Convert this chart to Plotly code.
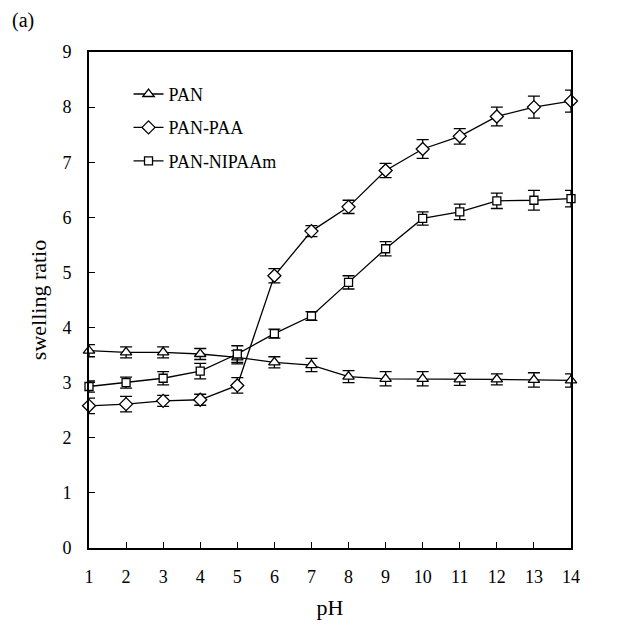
import plotly.graph_objects as go

ph = list(range(1, 15))
pan = [3.58, 3.55, 3.55, 3.52, 3.46, 3.37, 3.32, 3.11, 3.07, 3.07, 3.06, 3.06, 3.05, 3.04]
pan_err = [0.11, 0.10, 0.10, 0.10, 0.12, 0.10, 0.12, 0.11, 0.13, 0.13, 0.11, 0.10, 0.13, 0.12]
paa = [2.58, 2.61, 2.67, 2.69, 2.95, 4.94, 5.75, 6.19, 6.85, 7.24, 7.47, 7.83, 8.00, 8.11]
paa_err = [0.14, 0.14, 0.10, 0.10, 0.14, 0.13, 0.10, 0.12, 0.13, 0.17, 0.14, 0.17, 0.20, 0.20]
nip = [2.93, 3.00, 3.08, 3.21, 3.52, 3.89, 4.21, 4.82, 5.43, 5.98, 6.10, 6.30, 6.31, 6.34]
nip_err = [0.10, 0.10, 0.12, 0.14, 0.15, 0.08, 0.08, 0.12, 0.13, 0.12, 0.14, 0.14, 0.18, 0.15]

series = [
    ("PAN", pan, pan_err, "triangle-up", 10),
    ("PAN-PAA", paa, paa_err, "diamond", 10),
    ("PAN-NIPAAm", nip, nip_err, "square", 8),
]

font = "Liberation Serif, Times New Roman, serif"
fig = go.Figure()
for name, vals, errs, sym, sz in series:
    fig.add_trace(go.Scatter(
        x=ph, y=vals, name=name, mode="lines+markers", legendgroup=name,
        line=dict(color="black", width=1.3),
        marker=dict(symbol=sym, size=sz, color="white", line=dict(color="black", width=1.3)),
        error_y=dict(type="data", array=errs, visible=True, color="black", thickness=1.3, width=6),
        cliponaxis=False,
    ))

fig.update_layout(
    width=633, height=632,
    margin=dict(l=81, r=70, t=44, b=92),
    paper_bgcolor="white", plot_bgcolor="white",
    font=dict(family=font, size=18, color="black"),
    showlegend=True,
    legend=dict(x=0.082, y=0.952, xanchor="left", yanchor="top",
                bgcolor="rgba(0,0,0,0)", font=dict(size=18, family=font),
                traceorder="grouped", tracegroupgap=7),
    annotations=[dict(text="(a)", xref="paper", yref="paper", x=-0.137, y=1.0645,
                      xanchor="center", yanchor="middle", showarrow=False,
                      font=dict(size=20, family=font))],
)

fig.update_xaxes(range=[1, 14], tickvals=ph, ticks="inside", ticklen=6, tickcolor="black",
                 tickwidth=1.3, ticklabelstandoff=11,
                 showline=True, linecolor="black", linewidth=1.8, mirror=True,
                 showgrid=False, zeroline=False, title=dict(text="pH", standoff=14),
                 tickfont=dict(size=18))
fig.update_yaxes(range=[0, 9], dtick=1, ticks="inside", ticklen=6, tickcolor="black",
                 tickwidth=1.3, ticklabelstandoff=12,
                 showline=True, linecolor="black", linewidth=1.8, mirror=True,
                 showgrid=False, zeroline=False,
                 title=dict(text="swelling ratio", standoff=10, font=dict(size=22)),
                 tickfont=dict(size=18))

fig.write_html("out.html")
